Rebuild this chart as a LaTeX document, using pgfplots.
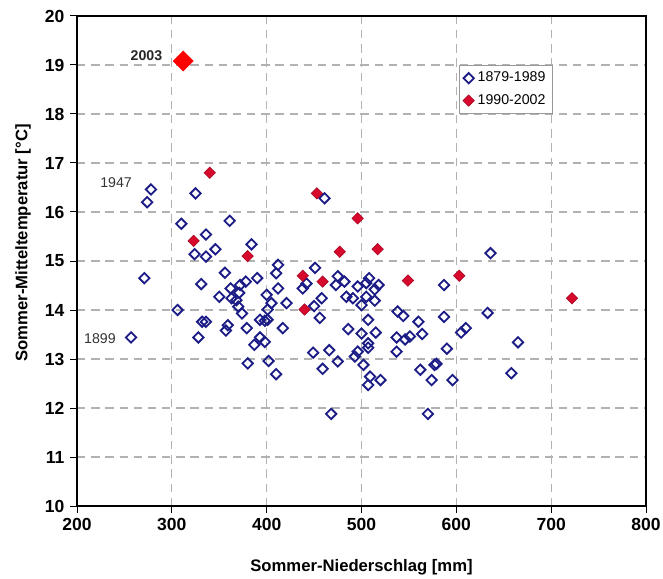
\documentclass[border=0pt]{standalone}
\usepackage{fontspec}
\setmainfont{Liberation Sans}
\usepackage{pgfplots}
\pgfplotsset{compat=1.18}
\definecolor{navy}{RGB}{28,28,135}
\definecolor{rot}{RGB}{215,10,45}

\begin{document}
\begin{tikzpicture}
\begin{axis}[
    scale only axis,
    width=341.4pt, height=294pt,
    xmin=200, xmax=800, ymin=10, ymax=20,
    xtick={200,300,...,800}, ytick={10,11,...,20},
    xtick pos=bottom, ytick pos=left,
    tick align=outside, major tick length=4pt,
    tick style={black, line width=0.6pt},
    axis line style={line width=1pt},
    grid=major,
    major grid style={gray!60, line width=0.7pt, dash pattern=on 5pt off 3.5pt},
    /pgf/number format/assume math mode=true,
    ticklabel style={font=\bfseries\fontsize{10.5}{12}\selectfont},
    xlabel={Sommer-Niederschlag [mm]},
    ylabel={Sommer-Mitteltemperatur [°C]},
    label style={font=\bfseries\fontsize{10}{12}\selectfont},
    xlabel style={at={(axis description cs:0.5,0)}, anchor=center, yshift=-36.6pt},
    ylabel style={at={(axis description cs:-0.095,0.537)}, anchor=center},
    legend style={at={(0.672,0.9)}, anchor=north west, draw=gray!80,
        font=\fontsize{8.5}{10}\selectfont, inner sep=2pt, row sep=2pt,
        legend cell align=left},
]
% 1879-1989
\addplot[only marks, mark=square, mark size=2.2pt,
    mark options={rotate=45, draw=navy, fill=white, line width=1.1pt}]
table {
x y
278 16.46
274 16.20
325 16.38
461 16.28
310 15.76
361 15.82
336 15.54
346 15.24
324 15.14
336 15.09
384 15.34
271 14.65
356 14.76
412 14.92
410 14.75
451 14.86
331 14.53
390 14.65
378 14.58
372 14.51
362 14.44
371 14.35
350 14.27
363 14.24
368 14.20
400 14.31
412 14.44
405 14.14
421 14.14
401 14.01
306 14.00
370 14.07
374 13.93
332 13.76
336 13.76
359 13.69
357 13.58
379 13.63
393 13.80
398 13.78
401 13.80
417 13.63
328 13.44
393 13.44
398 13.35
387 13.29
449 13.13
257 13.44
442 14.54
438 14.44
475 14.69
482 14.58
473 14.51
508 14.65
518 14.51
505 14.55
514 14.42
496 14.48
587 14.51
484 14.27
491 14.24
505 14.27
514 14.19
500 14.10
458 14.24
450 14.08
456 13.84
507 13.80
538 13.97
544 13.88
560 13.76
587 13.86
486 13.61
500 13.52
515 13.54
537 13.44
546 13.40
551 13.46
564 13.51
507 13.32
507 13.23
590 13.21
466 13.18
496 13.15
493 13.05
537 13.15
636 15.16
633 13.94
605 13.54
610 13.63
665 13.34
475 12.95
459 12.80
502 12.88
509 12.64
507 12.47
520 12.57
380 12.91
402 12.96
410 12.69
468 11.88
562 12.78
577 12.88
579 12.90
574 12.57
596 12.57
658 12.71
570 11.88
};
\addlegendentry{1879-1989}
% 1990-2002
\addplot[only marks, mark=square*, mark size=2.4pt,
    mark options={rotate=45, draw=rot!80!black, fill=rot, line width=0.4pt}]
table {
x y
340 16.80
453 16.38
496 15.87
323 15.41
380 15.10
477 15.19
517 15.24
438 14.70
459 14.58
440 14.01
549 14.60
603 14.70
722 14.24
};
\addlegendentry{1990-2002}
% 2003
\addplot[only marks, mark=square*, mark size=4.2pt, forget plot,
    mark options={rotate=45, draw=red, fill=red}]
table {
x y
312 19.08
};
\node[anchor=east, font=\bfseries\fontsize{8.5}{10}\selectfont, text=black!85] at (axis cs:296,19.2) {2003};
\node[anchor=east, font=\fontsize{8.5}{10}\selectfont, text=black!80] at (axis cs:264,16.59) {1947};
\node[anchor=east, font=\fontsize{8.5}{10}\selectfont, text=black!80] at (axis cs:247,13.41) {1899};
\end{axis}
\pgfresetboundingbox
\path ([xshift=-46.2pt, yshift=-43.2pt]current axis.south west) rectangle ([xshift=10.2pt, yshift=9.6pt]current axis.north east);
\end{tikzpicture}
\end{document}
